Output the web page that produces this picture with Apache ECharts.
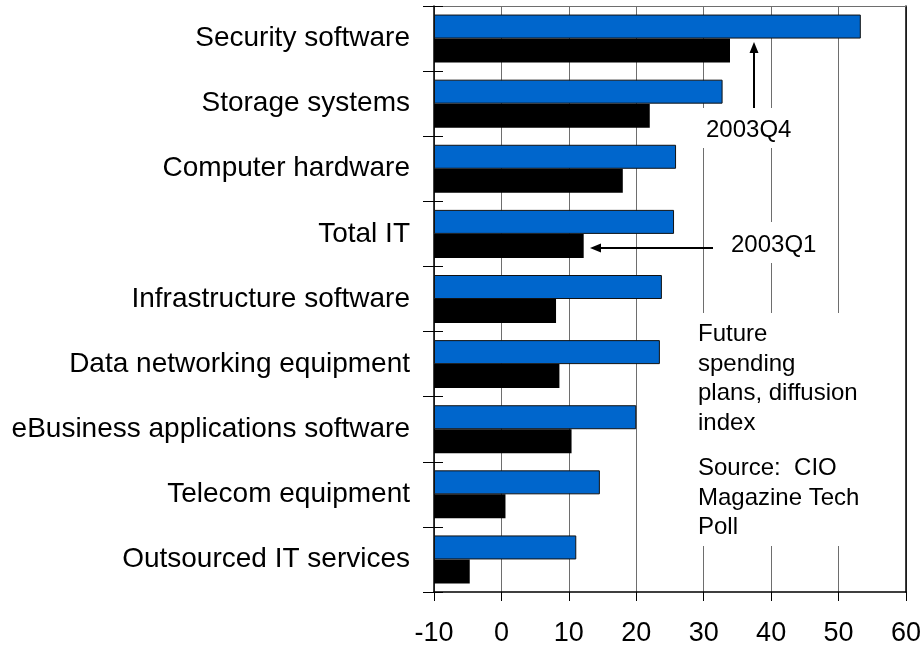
<!DOCTYPE html>
<html>
<head>
<meta charset="utf-8">
<script src="https://cdn.jsdelivr.net/npm/echarts@6/dist/echarts.min.js"></script>
<style>
  html, body { margin: 0; padding: 0; background: #ffffff; }
  #chart { width: 924px; height: 647px; }
</style>
</head>
<body>
<div id="chart"></div>
<script>
// IT spending plans by segment, diffusion index
const categories = [
  'Security software',
  'Storage systems',
  'Computer hardware',
  'Total IT',
  'Infrastructure software',
  'Data networking equipment',
  'eBusiness applications software',
  'Telecom equipment',
  'Outsourced IT services'
];
const q4Values = [53.3, 32.8, 25.9, 25.6, 23.8, 23.5, 20.0, 14.6, 11.1];
const q1Values = [33.9, 22.0, 18.0, 12.2, 8.1, 8.6, 10.4, 0.6, -4.7];
const xTicks = [-10, 0, 10, 20, 30, 40, 50, 60];

const FONT = '"Liberation Sans", Arial, Helvetica, sans-serif';
const GRID_GRAY = '#6e6e6e';

const chart = echarts.init(document.getElementById('chart'), null, { renderer: 'canvas' });

const xMin = xTicks[0];
const xMax = xTicks[xTicks.length - 1];
const xStep = xTicks[1] - xTicks[0];

chart.setOption({
  animation: false,
  backgroundColor: '#ffffff',
  grid: { left: 434, right: 17, top: 6, bottom: 55, containLabel: false },
  xAxis: [
    {
      type: 'value',
      position: 'bottom',
      min: xMin, max: xMax, interval: xStep,
      startValue: xMin,
      axisLine: { show: true, onZero: false, lineStyle: { color: '#000', width: 1.5 } },
      axisTick: { show: true, length: 9, lineStyle: { color: '#000', width: 1 } },
      axisLabel: { fontSize: 27, color: '#000', fontFamily: FONT, margin: 28 },
      splitLine: { show: true, lineStyle: { color: GRID_GRAY, width: 1 } }
    },
    {
      type: 'value',
      position: 'top',
      min: xMin, max: xMax, interval: xStep,
      axisLine: { show: true, onZero: false, lineStyle: { color: GRID_GRAY, width: 1 } },
      axisTick: { show: false },
      axisLabel: { show: false },
      splitLine: { show: false }
    }
  ],
  yAxis: [
    {
      type: 'category',
      data: categories,
      inverse: true,
      position: 'left',
      axisLine: { show: true, onZero: false, lineStyle: { color: '#000', width: 1.5 } },
      axisTick: { show: true, length: 11, lineStyle: { color: '#000', width: 1 } },
      axisLabel: { fontSize: 28, color: '#000', fontFamily: FONT, margin: 24, padding: [4, 0, 0, 0] },
      splitLine: { show: false }
    },
    {
      type: 'category',
      data: categories,
      inverse: true,
      position: 'left',
      axisLine: { show: false, onZero: false },
      axisTick: { show: true, inside: true, length: 9, lineStyle: { color: '#000', width: 1 } },
      axisLabel: { show: false },
      splitLine: { show: false }
    },
    {
      type: 'category',
      data: categories,
      inverse: true,
      position: 'right',
      axisLine: { show: true, onZero: false, lineStyle: { color: '#000', width: 1.5 } },
      axisTick: { show: false },
      axisLabel: { show: false },
      splitLine: { show: false }
    }
  ],
  series: [
    {
      name: '2003Q4',
      type: 'bar',
      xAxisIndex: 0,
      yAxisIndex: 0,
      data: q4Values,
      barWidth: 24,
      barGap: '0%',
      itemStyle: { color: '#0066cc', borderColor: '#111', borderWidth: 1 },
      z: 3
    },
    {
      name: '2003Q1',
      type: 'bar',
      xAxisIndex: 0,
      yAxisIndex: 0,
      data: q1Values,
      barWidth: 24,
      barGap: '0%',
      itemStyle: { color: '#000000' },
      z: 3
    }
  ]
});

// Annotations: labelled arrows and the note block, on white panels over the grid
const textStyle = (txt, x, y, extra) => Object.assign({
  text: txt, x: x, y: y, fill: '#000', font: '24px ' + FONT
}, extra || {});

function arrowUp(x, yBase, yTip) {
  return [
    { type: 'line', z: 120, shape: { x1: x, y1: yBase, x2: x, y2: yTip + 10 },
      style: { stroke: '#000', lineWidth: 2 } },
    { type: 'polygon', z: 120, shape: { points: [[x - 4.5, yTip + 11], [x + 4.5, yTip + 11], [x, yTip]] },
      style: { fill: '#000' } }
  ];
}
function arrowLeft(xBase, xTip, y) {
  return [
    { type: 'line', z: 120, shape: { x1: xBase, y1: y, x2: xTip + 10, y2: y },
      style: { stroke: '#000', lineWidth: 2 } },
    { type: 'polygon', z: 120, shape: { points: [[xTip + 11, y - 4.5], [xTip + 11, y + 4.5], [xTip, y]] },
      style: { fill: '#000' } }
  ];
}

chart.setOption({
  graphic: [
    { type: 'rect', z: 110, shape: { x: 699, y: 108, width: 102, height: 40 }, style: { fill: '#fff' } },
    { type: 'rect', z: 110, shape: { x: 722, y: 222, width: 104, height: 41 }, style: { fill: '#fff' } },
    { type: 'rect', z: 110, shape: { x: 690, y: 313, width: 210, height: 233 }, style: { fill: '#fff' } },
    { type: 'text', z: 120, style: textStyle('2003Q4', 706, 130, { verticalAlign: 'middle' }) },
    { type: 'text', z: 120, style: textStyle('2003Q1', 731, 245, { verticalAlign: 'middle' }) },
    { type: 'text', z: 120, style: textStyle('Future\nspending\nplans, diffusion\nindex', 698, 320, { lineHeight: 29.5, verticalAlign: 'top' }) },
    { type: 'text', z: 120, style: textStyle('Source:  CIO\nMagazine Tech\nPoll', 698, 454, { lineHeight: 29.5, verticalAlign: 'top' }) }
  ].concat(arrowUp(754, 108, 42), arrowLeft(713, 590, 248))
});
</script>
</body>
</html>
